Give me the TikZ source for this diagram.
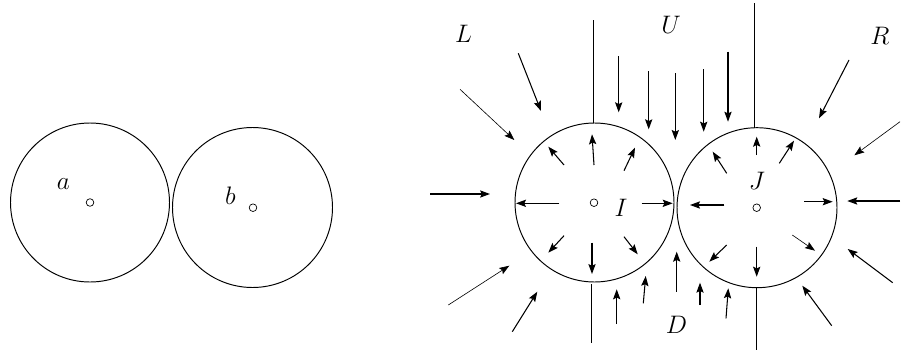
\documentclass[tikz,border=0pt]{standalone}
\usetikzlibrary{arrows.meta}

\begin{document}
\begin{tikzpicture}[x=0.02cm, y=-0.02cm,
  disc/.style={line width=0.55pt},
  hub/.style={line width=0.4pt},
  flux/.style={-{Stealth[length=2mm, width=1.45mm, inset=0.35mm]}, line width=0.6pt},
  fluxthin/.style={flux, line width=0.35pt},
  cutline/.style={line width=0.55pt},
  tag/.style={inner sep=0pt, font=\fontsize{15.5}{18}\selectfont}
]
\useasboundingbox (0,0) rectangle (903,352);
% left pair
\draw[disc] (90,202.5) circle (79.5);
\draw[disc] (252.5,207.5) circle (80);
\draw[hub] (90,202.5) circle (3.8);
\draw[hub] (253,207.7) circle (3.8);
\node[tag] (lab-a) at (63.5,184) {$a$};
\node[tag] (lab-b) at (230.5,195.5) {$b$};
% right pair
\draw[disc] (594.5,202.5) circle (79.5);
\draw[disc] (757,207.7) circle (80);
\draw[hub] (594,202.7) circle (3.8);
\draw[hub] (756.7,207.7) circle (3.8);
\draw[cutline] (593.3,123) -- (593.3,20);
\draw[cutline] (754.3,127.7) -- (754.3,3);
\draw[cutline] (591.5,284.3) -- (591.5,342.7);
\draw[cutline] (756.7,288.3) -- (756.7,350);
\node[tag] (lab-L) at (463.5,34) {$L$};
\node[tag] (lab-U) at (671,24.7) {$U$};
\node[tag] (lab-R) at (880,36) {$R$};
\node[tag] (lab-I) at (621,208) {$I$};
\node[tag] (lab-J) at (757,181) {$J$};
\node[tag] (lab-D) at (676.5,324.5) {$D$};
\foreach \xa/\ya/\xb/\yb in {518.3/53.3/541/111, 618.7/56/618.7/112.3,
    648.7/71/648.7/129.3, 675.3/73.3/675.3/140, 703.7/69/703.7/131.7,
    728/51.7/728/121.7, 849/60/819/118.3,
    564/165/548.3/146.7, 594/165/592/134.3, 624/170.7/635/147.7,
    726.7/173.3/712.7/151.7, 756.7/155/756.7/136.7, 779.3/163.3/794/140.7,
    430/194/490/194, 559.3/203.3/516/203.3, 641.7/203.3/672.7/203.3,
    724.3/205/690/205, 804/201.7/832.7/201.7, 900/201/847.3/201,
    564/235.7/548.3/252.7, 592/242.7/592/274, 624/236.7/637.7/254.3,
    726.7/245/709.3/261.7, 756.7/246.7/756.7/276.7,
    512.3/331.7/537.3/291.7, 616.7/324/616.7/289.3, 643.3/303.3/645.7/276,
    676.7/291.7/676.7/251.7, 700/305/700/282.7, 726/318.3/728.3/288.3,
    831.7/325.7/802.3/285.7, 892.7/282.7/847.7/249}
  \draw[flux] (\xa,\ya) -- (\xb,\yb);
\foreach \xa/\ya/\xb/\yb in {460/89.3/514.3/140, 900/121.7/854.3/155.3,
    792.3/235/815/250.7, 448.3/305/509.3/265.7}
  \draw[fluxthin] (\xa,\ya) -- (\xb,\yb);
\end{tikzpicture}
\end{document}
